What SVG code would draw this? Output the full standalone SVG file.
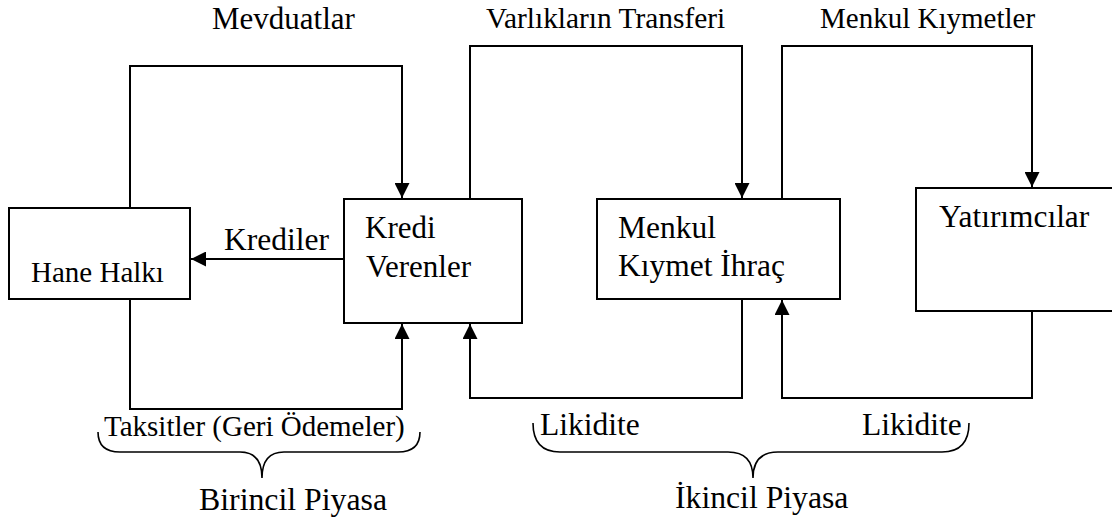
<svg xmlns="http://www.w3.org/2000/svg" width="1112" height="521" viewBox="0 0 1112 521">
<defs>
<style>
.box{fill:#fff;stroke:#000;stroke-width:2}
.ln{fill:none;stroke:#000;stroke-width:2}
.br{fill:none;stroke:#000;stroke-width:1.6}
text{font-family:"Liberation Serif","Times New Roman",serif;fill:#000}
</style>
<marker id="ah" viewBox="0 0 10 10" refX="10" refY="5" markerUnits="userSpaceOnUse" markerWidth="15" markerHeight="15" orient="auto">
<path d="M0,0 L10,5 L0,10 z" fill="#000"/>
</marker>
</defs>
<rect width="1112" height="521" fill="#fff"/>
<g id="connectors">
<path class="ln" d="M130,208 V66 H402 V198" marker-end="url(#ah)"/>
<path class="ln" d="M344,259 H191" marker-end="url(#ah)"/>
<path class="ln" d="M130,299 V409 H402 V324" marker-end="url(#ah)"/>
<path class="ln" d="M470,199 V46 H742 V198" marker-end="url(#ah)"/>
<path class="ln" d="M782,199 V46 H1032 V187" marker-end="url(#ah)"/>
<path class="ln" d="M742,299 V398 H470 V324" marker-end="url(#ah)"/>
<path class="ln" d="M1032,311 V398 H782 V300" marker-end="url(#ah)"/>
<text x="212" y="29" font-size="31">Mevduatlar</text>
<text x="486" y="28" font-size="29.4">Varlıkların Transferi</text>
<text x="820" y="28" font-size="29">Menkul Kıymetler</text>
<text x="224" y="250" font-size="31.5">Krediler</text>
<text x="104" y="436" font-size="29">Taksitler (Geri Ödemeler)</text>
<text x="540" y="435" font-size="31.5">Likidite</text>
<text x="862" y="435" font-size="31.5">Likidite</text>
</g>
<g id="braces">
<path class="br" d="M98,432 Q98,452 120,452 H240 Q262,452 262,478 Q262,452 284,452 H398 Q420,452 420,432"/>
<text x="199" y="510" font-size="31.8">Birincil Piyasa</text>
<path class="br" d="M533,423 Q533,452 560,452 H728 Q753,452 753,478 Q753,452 778,452 H942 Q969,452 969,423"/>
<text x="675" y="508" font-size="31.7">İkincil Piyasa</text>
</g>
<g id="hane">
<rect class="box" x="9" y="208" width="181" height="91"/>
<text x="31" y="282" font-size="29">Hane Halkı</text>
</g>
<g id="kredi">
<rect class="box" x="344" y="199" width="178" height="124"/>
<text x="365" y="238" font-size="31">Kredi</text>
<text x="366" y="277" font-size="31">Verenler</text>
</g>
<g id="menkul">
<rect class="box" x="597" y="199" width="243" height="100"/>
<text x="618" y="238" font-size="31.5">Menkul</text>
<text x="618" y="276" font-size="31.5">Kıymet İhraç</text>
</g>
<g id="yatirimcilar">
<rect class="box" x="916" y="188" width="220" height="123"/>
<text x="939" y="227" font-size="31.4">Yatırımcılar</text>
</g>
</svg>
